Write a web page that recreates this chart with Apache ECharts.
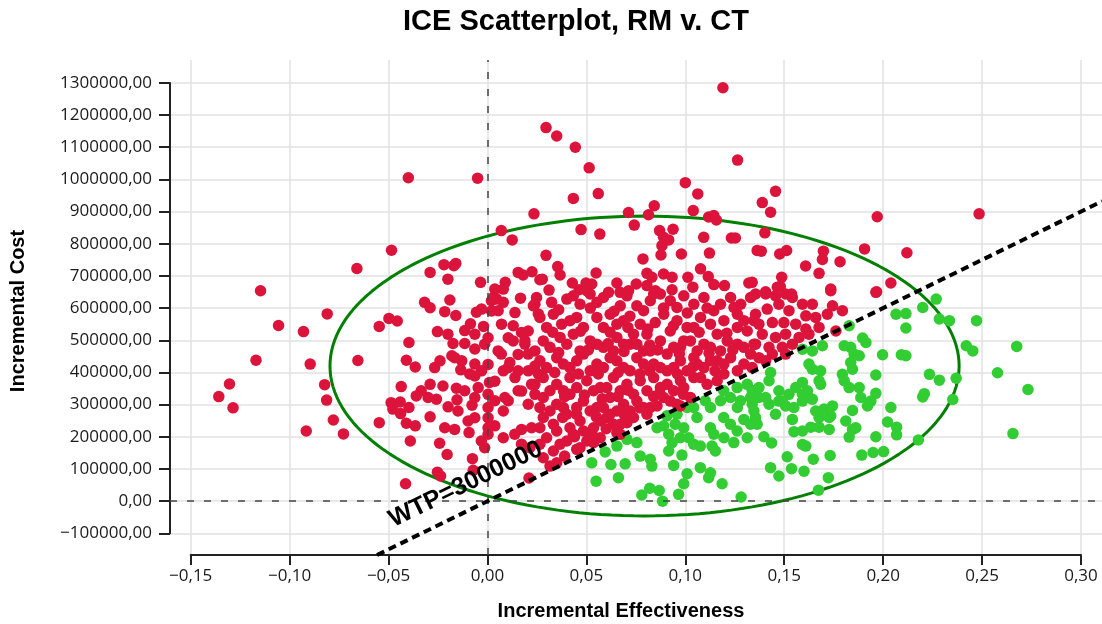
<!DOCTYPE html>
<html>
<head>
<meta charset="utf-8">
<title>ICE Scatterplot, RM v. CT</title>
<script src="https://cdn.jsdelivr.net/npm/echarts@6.0.0/dist/echarts.min.js"></script>
<style>
html, body { margin: 0; padding: 0; background: #fff; }
#main { width: 1102px; height: 624px; }
</style>
</head>
<body>
<div id="main"></div>
<script>
// willingness-to-pay threshold
const wtp = 3000000;

// tick ranges shown on the axes: [min, max, step]
const xTicks = [-0.15, 0.30, 0.05];
const yTicks = [-100000, 1300000, 100000];

// 95% ellipse of the draws: centre and semi-axes (effectiveness, cost)
const ellipseCenter = [0.0794, 420000];
const ellipseRadius = [0.159, 466000];

// bootstrap draws: [incremental effectiveness, incremental cost]
const iceDraws = [
  [-0.040, 1005000], [-0.005, 1004000], [-0.0485, 780000], [-0.066, 723000], [0.0235, 893000],
  [0.007, 841000], [0.0125, 812000], [-0.022, 735000], [-0.016, 739000], [-0.017, 732000],
  [-0.029, 711000], [-0.020, 690000], [-0.0035, 680000], [0.0155, 711000], [0.018, 703000],
  [0.0225, 713000], [0.0037, 659000], [0.008, 659000], [0.009, 680000], [0.0265, 688000],
  [-0.1147, 654000], [-0.1056, 546000], [-0.093, 527000], [-0.081, 582000], [-0.0547, 543000],
  [-0.0498, 568000], [-0.0456, 560000], [-0.0318, 618000], [-0.029, 601000], [-0.019, 625000],
  [-0.0216, 589000], [-0.016, 577000], [-0.0086, 551000], [-0.0253, 527000], [-0.020, 519000],
  [-0.002, 543000], [-0.0056, 587000], [-0.003, 597000], [0.002, 623000], [-0.1358, 325000],
  [-0.1304, 364000], [-0.1286, 290000], [-0.117, 438000], [-0.0916, 218000], [-0.0896, 426000],
  [-0.0823, 362000], [-0.0813, 314000], [-0.0779, 252000], [-0.0728, 209000], [-0.0655, 437000],
  [-0.0547, 244000], [-0.0414, 54000],
  [0.003, 633000], [0.008, 618000], [0.0167, 631000], [0.0054, 592000], [0.0232, 607000],
  [0.0257, 582000], [-0.0397, 493000], [-0.041, 438000], [-0.0365, 417000], [-0.0267, 415000],
  [-0.0174, 490000], [-0.0115, 490000], [-0.0064, 473000], [-0.0014, 488000], [-0.024, 436000],
  [-0.018, 452000], [-0.013, 436000], [-0.0135, 408000], [-0.009, 395000], [-0.003, 405000],
  [0.001, 369000], [-0.0047, 353000], [-0.0064, 389000], [0.007, 457000], [0.013, 545000],
  [0.0172, 524000], [0.013, 498000], [0.0189, 488000], [0.0113, 431000], [0.0155, 405000],
  [0.008, 405000], [0.0206, 457000], [0.024, 420000], [0.0223, 363000], [0.0257, 395000],
  [-0.0436, 356000], [-0.036, 327000], [-0.030, 322000], [-0.0258, 317000], [-0.029, 363000],
  [-0.0225, 358000], [-0.0157, 351000], [-0.0487, 306000], [-0.0441, 308000], [-0.0478, 286000],
  [-0.0439, 272000], [-0.0397, 291000], [-0.041, 242000], [-0.0365, 234000], [-0.029, 262000],
  [-0.0199, 293000], [-0.0154, 315000], [-0.0078, 298000], [-0.039, 187000], [-0.0166, 223000],
  [-0.0093, 213000], [-0.0242, 180000], [-0.0204, 145000], [-0.0076, 132000], [-0.0253, 90000],
  [-0.0237, 78000], [-0.0072, 96000], [0.0003, 208000], [0.0037, 234000], [0.0003, 259000],
  [0.008, 197000], [0.0138, 208000], [0.0172, 223000], [0.0223, 228000], [0.0037, 312000],
  [0.0105, 312000], [0.008, 280000], [0.0172, 177000], [0.0214, 166000], [0.0155, 343000],
  [0.0206, 301000], [0.024, 332000], [0.021, 72000],
  [-0.0064, 519000], [-0.0115, 530000], [-0.0166, 446000], [-0.0064, 426000], [-0.0115, 343000],
  [-0.0064, 322000], [-0.0149, 280000], [-0.0064, 259000], [-0.0098, 249000], [0.0003, 291000],
  [0.0003, 228000], [-0.0031, 187000], [-0.0014, 166000], [-0.0216, 228000], [-0.0335, 343000],
  [0.0046, 628000], [0.024, 612000], [0.002, 591000], [0.0139, 586000], [0.0071, 550000],
  [0.0206, 529000], [0.0003, 508000], [0.0105, 508000], [0.0189, 498000], [0.0054, 467000],
  [0.0155, 456000], [0.024, 467000], [0.0003, 425000], [0.0105, 415000], [0.0206, 405000],
  [0.0037, 373000], [0.0139, 384000], [0.024, 363000], [0.0003, 332000], [0.0088, 322000],
  [0.0172, 342000],
  [0.119, 1285000], [0.0296, 1161000], [0.035, 1135000], [0.0444, 1100000], [0.0514, 1036000],
  [0.1264, 1060000], [0.0434, 941000], [0.056, 956000], [0.100, 990000], [0.1063, 955000],
  [0.0843, 918000], [0.0713, 897000], [0.0814, 890000], [0.104, 903000], [0.1118, 883000],
  [0.1144, 888000], [0.1157, 874000], [0.0473, 844000], [0.0568, 830000], [0.0742, 858000],
  [0.087, 841000], [0.0938, 845000], [0.089, 820000], [0.0916, 812000], [0.0882, 794000],
  [0.0877, 765000], [0.098, 768000], [0.1093, 820000], [0.1122, 771000], [0.1233, 818000],
  [0.1253, 818000], [0.0296, 764000], [0.0355, 729000], [0.0367, 703000], [0.0277, 690000],
  [0.0311, 656000], [0.0429, 678000], [0.0498, 678000], [0.0527, 675000], [0.0463, 657000],
  [0.0549, 709000], [0.0654, 678000], [0.0786, 753000], [0.0752, 675000], [0.0806, 708000],
  [0.0831, 696000], [0.089, 706000], [0.0933, 696000], [0.0806, 670000], [0.0849, 654000],
  [0.0933, 657000], [0.1013, 696000], [0.1077, 722000], [0.1116, 698000], [0.1144, 673000],
  [0.1198, 670000], [0.1038, 665000], [0.1321, 678000], [0.1338, 680000], [0.1363, 779000],
  [0.1389, 928000], [0.0612, 649000], [0.067, 649000], [0.0713, 654000], [0.0502, 654000],
  [0.1456, 963000], [0.1431, 898000], [0.197, 884000], [0.1402, 834000], [0.1384, 777000],
  [0.1477, 768000], [0.1512, 779000], [0.1698, 777000], [0.1693, 751000], [0.1608, 731000],
  [0.1782, 744000], [0.1906, 784000], [0.212, 772000], [0.1676, 708000], [0.1487, 696000],
  [0.1465, 665000], [0.148, 667000], [0.1406, 651000], [0.1537, 644000], [0.1735, 659000],
  [0.1967, 651000], [0.2039, 678000], [0.2485, 893000],
  [0.0401, 628000], [0.0468, 612000], [0.0519, 644000], [0.0586, 633000], [0.0705, 638000],
  [0.0755, 607000], [0.0823, 623000], [0.0874, 644000], [0.0924, 623000], [0.0992, 638000],
  [0.1043, 612000], [0.1094, 633000], [0.1178, 612000], [0.1229, 633000], [0.128, 612000],
  [0.133, 633000], [0.0265, 571000], [0.0333, 581000], [0.0417, 561000], [0.0485, 540000],
  [0.0553, 571000], [0.062, 581000], [0.0688, 561000], [0.0772, 550000], [0.0806, 519000],
  [0.0891, 581000], [0.0958, 561000], [0.1009, 540000], [0.1077, 571000], [0.1127, 550000],
  [0.1195, 561000], [0.1263, 581000], [0.1313, 529000], [0.1347, 561000], [0.0282, 498000],
  [0.0367, 509000], [0.0434, 519000], [0.0519, 498000], [0.0586, 478000], [0.0654, 509000],
  [0.0721, 488000], [0.0789, 467000], [0.0874, 498000], [0.0941, 478000], [0.0992, 498000],
  [0.106, 467000], [0.1127, 478000], [0.1212, 498000], [0.1296, 478000], [0.1347, 488000],
  [0.0265, 436000], [0.035, 446000], [0.0417, 415000], [0.0485, 457000], [0.0553, 426000],
  [0.062, 446000], [0.0688, 415000], [0.0755, 446000], [0.084, 426000], [0.0908, 405000],
  [0.0975, 436000], [0.1043, 446000], [0.1094, 415000], [0.1161, 436000], [0.1229, 446000],
  [0.1296, 426000], [0.0282, 384000], [0.035, 363000], [0.0417, 384000], [0.0502, 374000],
  [0.057, 353000], [0.0637, 384000], [0.0705, 363000], [0.0772, 374000], [0.084, 384000],
  [0.0908, 363000], [0.0975, 374000], [0.1043, 384000], [0.111, 363000], [0.1195, 395000],
  [0.0282, 322000], [0.035, 301000], [0.0417, 332000], [0.0485, 311000], [0.0553, 291000],
  [0.062, 322000], [0.0688, 301000], [0.0755, 311000], [0.0823, 291000], [0.0891, 322000],
  [0.0958, 301000], [0.1026, 322000], [0.0282, 260000], [0.0333, 239000], [0.0401, 270000],
  [0.0468, 249000], [0.0536, 228000], [0.0603, 260000], [0.0671, 239000], [0.0738, 260000],
  [0.0806, 270000], [0.0299, 197000], [0.0367, 177000], [0.0434, 208000], [0.0502, 187000],
  [0.057, 197000], [0.0654, 213000], [0.0282, 135000], [0.035, 119000], [0.0451, 161000],
  [0.0248, 633000], [0.0324, 618000], [0.0434, 638000], [0.0553, 618000], [0.0671, 607000],
  [0.0789, 592000], [0.084, 644000], [0.0958, 602000], [0.1144, 592000], [0.1246, 602000],
  [0.1296, 561000], [0.0299, 540000], [0.0375, 550000], [0.0451, 571000], [0.0586, 540000],
  [0.0654, 550000], [0.0738, 519000], [0.0848, 555000], [0.0924, 529000], [0.1043, 540000],
  [0.1161, 519000], [0.1263, 540000], [0.0316, 478000], [0.0401, 488000], [0.0468, 467000],
  [0.0553, 488000], [0.0637, 467000], [0.0688, 488000], [0.0755, 488000], [0.0823, 467000],
  [0.0908, 457000], [0.0975, 478000], [0.1026, 498000], [0.1094, 488000], [0.1178, 467000],
  [0.1263, 488000], [0.133, 457000], [0.0299, 415000], [0.0384, 426000], [0.0451, 436000],
  [0.0519, 405000], [0.0586, 415000], [0.0654, 436000], [0.0721, 405000], [0.0789, 426000],
  [0.0874, 415000], [0.0941, 415000], [0.1009, 405000], [0.106, 426000], [0.1127, 436000],
  [0.1195, 426000], [0.1263, 405000], [0.0316, 343000], [0.0384, 343000], [0.0451, 353000],
  [0.0536, 343000], [0.0603, 353000], [0.0671, 343000], [0.0738, 332000], [0.0806, 343000],
  [0.0874, 353000], [0.0941, 343000], [0.0992, 353000], [0.1077, 384000], [0.1161, 374000],
  [0.0265, 291000], [0.0316, 280000], [0.0384, 291000], [0.0451, 291000], [0.0519, 280000],
  [0.0586, 291000], [0.0654, 280000], [0.0721, 280000], [0.0789, 291000], [0.0857, 296000],
  [0.0924, 311000], [0.0265, 228000], [0.035, 218000], [0.0417, 228000], [0.0485, 218000],
  [0.057, 249000], [0.0637, 239000], [0.0705, 244000], [0.0265, 177000], [0.0333, 156000],
  [0.0401, 187000], [0.0468, 166000], [0.0536, 182000], [0.0316, 109000],
  [0.036, 595000], [0.052, 600000], [0.064, 590000], [0.072, 575000], [0.089, 600000],
  [0.101, 585000], [0.111, 600000], [0.033, 525000], [0.047, 528000], [0.062, 525000],
  [0.071, 540000], [0.081, 535000], [0.094, 545000], [0.107, 525000], [0.121, 522000],
  [0.036, 462000], [0.051, 470000], [0.061, 490000], [0.069, 465000], [0.082, 485000],
  [0.086, 470000], [0.097, 458000], [0.112, 460000], [0.124, 470000], [0.034, 400000],
  [0.046, 395000], [0.056, 395000], [0.066, 400000], [0.077, 395000], [0.082, 405000],
  [0.096, 395000], [0.104, 418000], [0.115, 405000], [0.039, 325000], [0.049, 330000],
  [0.058, 318000], [0.066, 325000], [0.071, 345000], [0.084, 325000], [0.087, 335000],
  [0.099, 332000], [0.038, 260000], [0.045, 270000], [0.055, 262000], [0.062, 270000],
  [0.077, 290000], [0.069, 270000], [0.044, 200000], [0.053, 205000], [0.060, 225000],
  [0.039, 140000],
  [0.1355, 644000], [0.1406, 644000], [0.1456, 638000], [0.1507, 644000], [0.1541, 633000],
  [0.1592, 612000], [0.1642, 612000], [0.1735, 654000], [0.1744, 607000], [0.1794, 592000],
  [0.1963, 649000], [0.1355, 581000], [0.1414, 597000], [0.1473, 612000], [0.1524, 592000],
  [0.1609, 576000], [0.1659, 571000], [0.1718, 581000], [0.1372, 550000], [0.144, 555000],
  [0.1498, 555000], [0.1558, 550000], [0.1609, 535000], [0.1676, 540000], [0.1761, 529000],
  [0.1389, 519000], [0.1456, 509000], [0.1507, 519000], [0.1575, 509000], [0.1625, 519000],
  [0.1355, 488000], [0.1423, 478000], [0.149, 478000], [0.1541, 488000], [0.1372, 446000],
  [0.144, 457000], [0.1507, 457000], [0.1338, 415000], [0.1406, 436000],
  [0.0527, 119000], [0.0549, 62000], [0.0624, 114000], [0.0662, 73000], [0.0696, 116000],
  [0.0595, 153000], [0.0654, 171000], [0.0755, 182000], [0.0772, 140000], [0.0823, 130000],
  [0.0831, 109000], [0.078, 19000], [0.082, 40000], [0.0868, 33000], [0.0885, 0],
  [0.0966, 21000], [0.0992, 54000], [0.1009, 85000], [0.0941, 111000], [0.0983, 143000],
  [0.0916, 156000], [0.0933, 182000], [0.0916, 208000], [0.089, 234000], [0.0949, 239000],
  [0.0992, 228000], [0.0975, 197000], [0.1017, 197000], [0.1042, 177000], [0.1076, 171000],
  [0.1059, 260000], [0.1042, 291000], [0.1101, 312000], [0.1127, 291000], [0.1127, 228000],
  [0.1144, 208000], [0.1135, 171000], [0.1152, 156000], [0.1076, 104000], [0.1118, 73000],
  [0.1127, 88000], [0.1186, 54000], [0.1282, 13000], [0.1245, 182000], [0.1194, 260000],
  [0.1228, 239000], [0.1262, 218000], [0.1296, 254000], [0.133, 239000], [0.1178, 312000],
  [0.1228, 322000], [0.1279, 312000], [0.133, 322000], [0.1262, 353000], [0.1313, 363000],
  [0.1347, 343000], [0.1194, 343000], [0.0857, 228000], [0.0907, 265000], [0.0958, 270000],
  [0.1009, 291000], [0.0975, 296000], [0.1263, 291000], [0.1347, 280000], [0.1313, 197000],
  [0.1195, 197000], [0.0671, 208000], [0.0705, 192000],
  [0.22, 602000], [0.2268, 628000], [0.2284, 566000], [0.2335, 561000], [0.2115, 583000],
  [0.2115, 538000], [0.2065, 581000], [0.242, 483000], [0.2453, 467000], [0.2092, 455000],
  [0.2115, 452000], [0.1997, 455000], [0.2234, 394000], [0.2284, 376000], [0.2369, 382000],
  [0.2208, 334000], [0.22, 324000], [0.2352, 316000], [0.1963, 392000], [0.1963, 335000],
  [0.1896, 507000], [0.1913, 493000], [0.1879, 452000], [0.1803, 483000], [0.1836, 478000],
  [0.1853, 457000], [0.1836, 431000], [0.1845, 410000], [0.1794, 394000], [0.1803, 374000],
  [0.1828, 353000], [0.1879, 353000], [0.1887, 322000], [0.1921, 296000], [0.1938, 311000],
  [0.1845, 282000], [0.1811, 249000], [0.1845, 223000], [0.1862, 228000], [0.1828, 199000],
  [0.1963, 200000], [0.2039, 291000], [0.2022, 246000], [0.2068, 230000], [0.2068, 206000],
  [0.2178, 190000], [0.1892, 143000], [0.1949, 151000], [0.2002, 154000], [0.1732, 142000],
  [0.1647, 130000], [0.1723, 73000], [0.1673, 34000], [0.16, 93000], [0.1537, 101000],
  [0.1515, 138000], [0.1431, 104000], [0.1473, 78000], [0.1592, 176000], [0.1609, 171000],
  [0.1397, 200000], [0.1436, 181000], [0.1549, 216000], [0.1592, 218000], [0.1634, 230000],
  [0.1676, 230000], [0.1727, 223000], [0.1363, 239000], [0.1456, 270000], [0.1541, 254000],
  [0.1676, 260000], [0.1727, 260000], [0.1338, 301000], [0.1372, 322000], [0.1406, 322000],
  [0.1423, 301000], [0.1473, 311000], [0.1507, 296000], [0.1549, 291000], [0.1592, 311000],
  [0.1625, 322000], [0.1659, 280000], [0.1701, 286000], [0.1744, 296000], [0.1735, 265000],
  [0.1558, 353000], [0.1592, 369000], [0.1617, 343000], [0.1592, 332000], [0.1642, 317000],
  [0.1524, 332000], [0.1423, 374000], [0.1431, 400000], [0.1372, 353000], [0.1338, 343000],
  [0.1625, 426000], [0.1642, 410000], [0.1684, 405000], [0.1676, 374000], [0.1684, 363000],
  [0.1592, 472000], [0.1642, 467000], [0.1693, 483000], [0.1473, 343000], [0.149, 311000],
  [0.1828, 545000], [0.1355, 260000],
  [0.2472, 561000], [0.2675, 481000], [0.2578, 399000], [0.2732, 347000], [0.2656, 210000]
];

// layout of the plot area (pixels)
const plotBox = { left: 170, top: 60, width: 932, height: 495 };
const xAxisBox = { left: 190.7, width: 890.3 };
const yAxisBox = { top: 82.9, height: 450.4 };

// extents of the data grid so that it lines up with the displayed axes
const xPerPx = (xTicks[1] - xTicks[0]) / xAxisBox.width;
const xMin = xTicks[0] - (xAxisBox.left - plotBox.left) * xPerPx;
const xMax = xMin + plotBox.width * xPerPx;
const yPerPx = (yTicks[1] - yTicks[0]) / yAxisBox.height;
const yMax = yTicks[1] + (yAxisBox.top - plotBox.top) * yPerPx;
const yMin = yMax - plotBox.height * yPerPx;

const redDots = iceDraws.filter(d => d[1] >= wtp * d[0]);
const greenDots = iceDraws.filter(d => d[1] < wtp * d[0]);

const ellipsePath = [];
for (let a = 0; a <= 360; a += 2) {
  const t = a * Math.PI / 180;
  ellipsePath.push([
    ellipseCenter[0] + ellipseRadius[0] * Math.cos(t),
    ellipseCenter[1] + ellipseRadius[1] * Math.sin(t)
  ]);
}

function commaNum(v) {
  const s = Math.abs(v).toFixed(2).replace('.', ',');
  return (v < -1e-9 ? '\u2212' : '') + s;
}

const tickFont = { fontFamily: 'Open Sans', fontSize: 17, color: '#1a1a1a' };
const gridLine = { show: true, lineStyle: { color: '#e2e2e2', width: 1.5 } };
const axisStroke = { color: '#222', width: 2 };

const chart = echarts.init(document.getElementById('main'), null, { renderer: 'canvas' });

chart.setOption({
  animation: false,
  backgroundColor: '#fff',
  grid: [
    { left: plotBox.left, top: plotBox.top, width: plotBox.width, height: plotBox.height, outerBoundsMode: 'none' },
    { left: xAxisBox.left, top: plotBox.top, width: xAxisBox.width, height: plotBox.height, outerBoundsMode: 'none' },
    { left: plotBox.left, top: yAxisBox.top, width: plotBox.width, height: yAxisBox.height, outerBoundsMode: 'none' }
  ],
  xAxis: [
    { gridIndex: 0, type: 'value', min: xMin, max: xMax, show: false },
    {
      gridIndex: 1, type: 'value', min: xTicks[0], max: xTicks[1], interval: xTicks[2],
      axisLine: { show: true, onZero: false, lineStyle: axisStroke },
      axisTick: { show: true, length: 10, lineStyle: axisStroke },
      axisLabel: Object.assign({ margin: 13, formatter: commaNum, showMinLabel: true, showMaxLabel: true }, tickFont),
      splitLine: gridLine
    },
    { gridIndex: 2, type: 'value', min: 0, max: 1, show: false }
  ],
  yAxis: [
    { gridIndex: 0, type: 'value', min: yMin, max: yMax, show: false },
    { gridIndex: 1, type: 'value', min: 0, max: 1, show: false },
    {
      gridIndex: 2, type: 'value', min: yTicks[0], max: yTicks[1], interval: yTicks[2],
      axisLine: { show: true, onZero: false, lineStyle: axisStroke },
      axisTick: { show: true, length: 11, lineStyle: axisStroke },
      axisLabel: Object.assign({ margin: 18, formatter: commaNum, showMinLabel: true, showMaxLabel: true }, tickFont),
      splitLine: gridLine
    }
  ],
  series: [
    {
      name: 'zero',
      type: 'scatter',
      xAxisIndex: 0, yAxisIndex: 0,
      data: [],
      z: 1,
      markLine: {
        silent: true,
        symbol: 'none',
        label: { show: false },
        lineStyle: { color: '#444', width: 1.5, type: [7, 10] },
        data: [{ xAxis: 0 }, { yAxis: 0 }]
      }
    },
    {
      name: 'ellipse',
      type: 'line',
      xAxisIndex: 0, yAxisIndex: 0,
      data: ellipsePath,
      showSymbol: false,
      silent: true,
      z: 2,
      lineStyle: { color: '#008000', width: 3 }
    },
    {
      name: 'cost-effective',
      type: 'scatter',
      xAxisIndex: 0, yAxisIndex: 0,
      data: greenDots,
      symbolSize: 11.5,
      z: 3,
      itemStyle: { color: '#32CD32', opacity: 1 }
    },
    {
      name: 'not cost-effective',
      type: 'scatter',
      xAxisIndex: 0, yAxisIndex: 0,
      data: redDots,
      symbolSize: 11.5,
      z: 3,
      itemStyle: { color: '#DC143C', opacity: 1 }
    },
    {
      name: 'wtp',
      type: 'line',
      xAxisIndex: 0, yAxisIndex: 0,
      data: [],
      z: 4,
      markLine: {
        silent: true,
        symbol: 'none',
        lineStyle: { color: '#000', width: 4, type: [8, 5] },
        label: {
          show: true,
          position: 'insideStartTop',
          distance: [27, 12],
          formatter: 'WTP=' + wtp,
          fontFamily: 'Liberation Sans',
          fontWeight: 'bold',
          fontSize: 25,
          color: '#000'
        },
        data: [[
          { coord: [yMin / wtp + 1e-6, yMin + 3] },
          { coord: [xMax - 1e-6, wtp * (xMax - 1e-6)] }
        ]]
      }
    }
  ],
  graphic: [
    {
      type: 'text', x: 576, y: 22,
      style: { text: 'ICE Scatterplot, RM v. CT', font: 'bold 29px "Liberation Sans", Arial', fill: '#000', align: 'center', verticalAlign: 'middle' }
    },
    {
      type: 'text', x: 621, y: 611,
      style: { text: 'Incremental Effectiveness', font: 'bold 20px "Liberation Sans", Arial', fill: '#000', align: 'center', verticalAlign: 'middle' }
    },
    {
      type: 'text', x: 18, y: 311, rotation: Math.PI / 2,
      style: { text: 'Incremental Cost', font: 'bold 20px "Liberation Sans", Arial', fill: '#000', align: 'center', verticalAlign: 'middle' }
    }
  ]
});

window.addEventListener('resize', function () {
  chart.resize();
});
</script>
</body>
</html>
